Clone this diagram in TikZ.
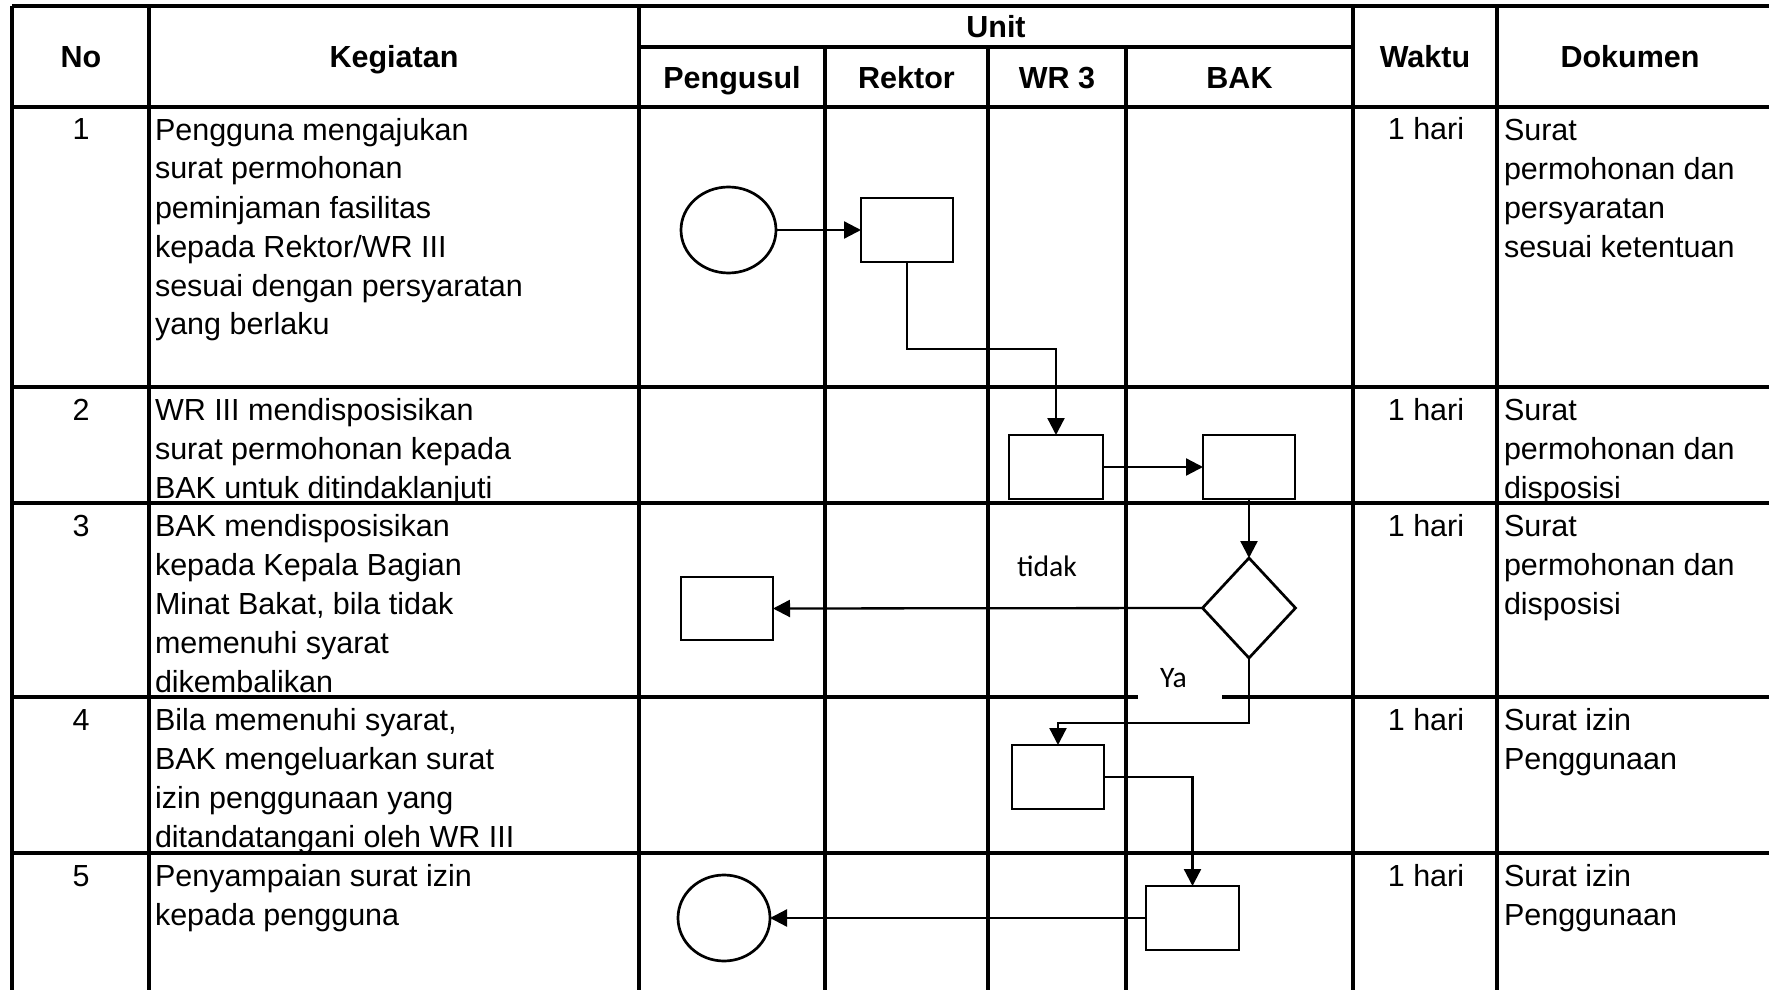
\documentclass[tikz,border=0pt]{standalone}
\usepackage{fontspec}
\setmainfont{Liberation Sans}
\newfontfamily\calibfont{Carlito}
\usetikzlibrary{shapes.geometric,arrows.meta}
\begin{document}
\begin{tikzpicture}[x=0.5pt,y=-0.5pt,
  tline/.style={line width=1.7pt},
  hline/.style={line width=2pt},
  shp/.style={draw,line width=1.35pt,inner sep=0pt,outer sep=0pt},
  boxs/.style={shp,rectangle,minimum width=46pt,minimum height=32pt},
  ovals/.style={shp,ellipse},
  conn/.style={line width=1.15pt},
  arr/.style={conn,-{Triangle[length=8.5pt,width=8.5pt]}},
  txt/.style={font=\fontsize{15.25}{19.5}\selectfont,inner sep=0pt,outer sep=0pt},
  hdr/.style={font=\bfseries\fontsize{15.25}{19.5}\selectfont,inner sep=0pt,anchor=base},
  ml/.style={txt,align=left,anchor=north west},
  num/.style={txt,anchor=base},
  lbl/.style={font=\calibfont\fontsize{14.85}{18}\selectfont,inner sep=0pt,anchor=base},
]
\useasboundingbox (0,0) rectangle (1769,990);
% ---- table grid ----
\draw[tline] (12,6) -- (1775,6);
\draw[tline] (639,47) -- (1353,47);
\draw[hline] (12,107) -- (1775,107);
\draw[tline] (12,387) -- (1775,387);
\draw[tline] (12,503) -- (1775,503);
\draw[tline] (12,697) -- (1775,697);
\draw[tline] (12,853) -- (1775,853);
\foreach \xx in {12,149,639,1353,1497} {\draw[tline] (\xx,6) -- (\xx,995);}
\foreach \xx in {825,988,1126} {\draw[tline] (\xx,47) -- (\xx,995);}
% ---- header ----
\node[hdr] (hno) at (81,68) {No};
\node[hdr] (hkeg) at (394,68) {Kegiatan};
\node[hdr] (hunit) at (996,38) {Unit};
\node[hdr] (hpeng) at (732,89) {Pengusul};
\node[hdr] (hrek) at (906.5,89) {Rektor};
\node[hdr] (hwr) at (1057,89) {WR 3};
\node[hdr] (hbak) at (1239.5,89) {BAK};
\node[hdr] (hwak) at (1425,68) {Waktu};
\node[hdr] (hdok) at (1630,68) {Dokumen};
% ---- row texts ----
\node[num] (n1) at (81,140) {1};
\node[num] (n2) at (81,420) {2};
\node[num] (n3) at (81,536) {3};
\node[num] (n4) at (81,730) {4};
\node[num] (n5) at (81,886) {5};
\node[ml] (k1) at (155,112.7) {\strut Pengguna mengajukan\\surat permohonan\\peminjaman fasilitas\\kepada Rektor/WR III\\sesuai dengan persyaratan\\yang berlaku};
\node[ml] (k2) at (155,392.7) {\strut WR III mendisposisikan\\surat permohonan kepada\\BAK untuk ditindaklanjuti};
\node[ml] (k3) at (155,508.7) {\strut BAK mendisposisikan\\kepada Kepala Bagian\\Minat Bakat, bila tidak\\memenuhi syarat\\dikembalikan};
\node[ml] (k4) at (155,702.7) {\strut Bila memenuhi syarat,\\BAK mengeluarkan surat\\izin penggunaan yang\\ditandatangani oleh WR III};
\node[ml] (k5) at (155,858.7) {\strut Penyampaian surat izin\\kepada pengguna};
\node[num] (w1) at (1426,140) {1 hari};
\node[num] (w2) at (1426,420) {1 hari};
\node[num] (w3) at (1426,536) {1 hari};
\node[num] (w4) at (1426,730) {1 hari};
\node[num] (w5) at (1426,886) {1 hari};
\node[ml] (d1) at (1504,112.7) {\strut Surat\\permohonan dan\\persyaratan\\sesuai ketentuan};
\node[ml] (d2) at (1504,392.7) {\strut Surat\\permohonan dan\\disposisi};
\node[ml] (d3t) at (1504,508.7) {\strut Surat\\permohonan dan\\disposisi};
\node[ml] (d4) at (1504,702.7) {\strut Surat izin\\Penggunaan};
\node[ml] (d5) at (1504,858.7) {\strut Surat izin\\Penggunaan};
% ---- labels ----
\fill[white] (1138,655) rectangle (1222,712);
\node[lbl] (tidak) at (1047,576) {tidak};
\node[lbl] (ya) at (1173.5,687) {Ya};
% ---- flowchart shapes ----
\node[ovals,minimum width=47.5pt,minimum height=43pt] (s1) at (728.5,230) {};
\node[boxs] (r1) at (907,230) {};
\node[boxs,minimum width=47pt] (r2a) at (1056,467) {};
\node[boxs] (r2b) at (1249,467) {};
\node[shp,diamond,minimum width=46.5pt,minimum height=50pt] (dd) at (1249,608) {};
\node[boxs,minimum height=31.5pt] (r3) at (727,608.5) {};
\node[boxs] (r4) at (1058,777) {};
\node[boxs,minimum width=46.5pt,minimum height=32pt] (r5) at (1192.5,918) {};
\node[ovals,minimum width=46pt,minimum height=43pt] (e5) at (724,918) {};
% ---- connectors ----
\coordinate (c1) at (907,349);
\coordinate (c2) at (1249,723);
\draw[arr] (s1.east) -- (r1.west);
\draw[arr] (r1.south) -- (c1) -| (r2a.north);
\draw[arr] (r2a.east) -- (r2b.west);
\draw[arr] (r2b.south) -- (dd.north);
\draw[arr] (dd.west) -- (r3.east);
\draw[arr] (dd.south) -- (c2) -| (r4.north);
\draw[arr] (r4.east) -| (r5.north);
\draw[arr] (r5.west) -- (e5.east);
\end{tikzpicture}
\end{document}
